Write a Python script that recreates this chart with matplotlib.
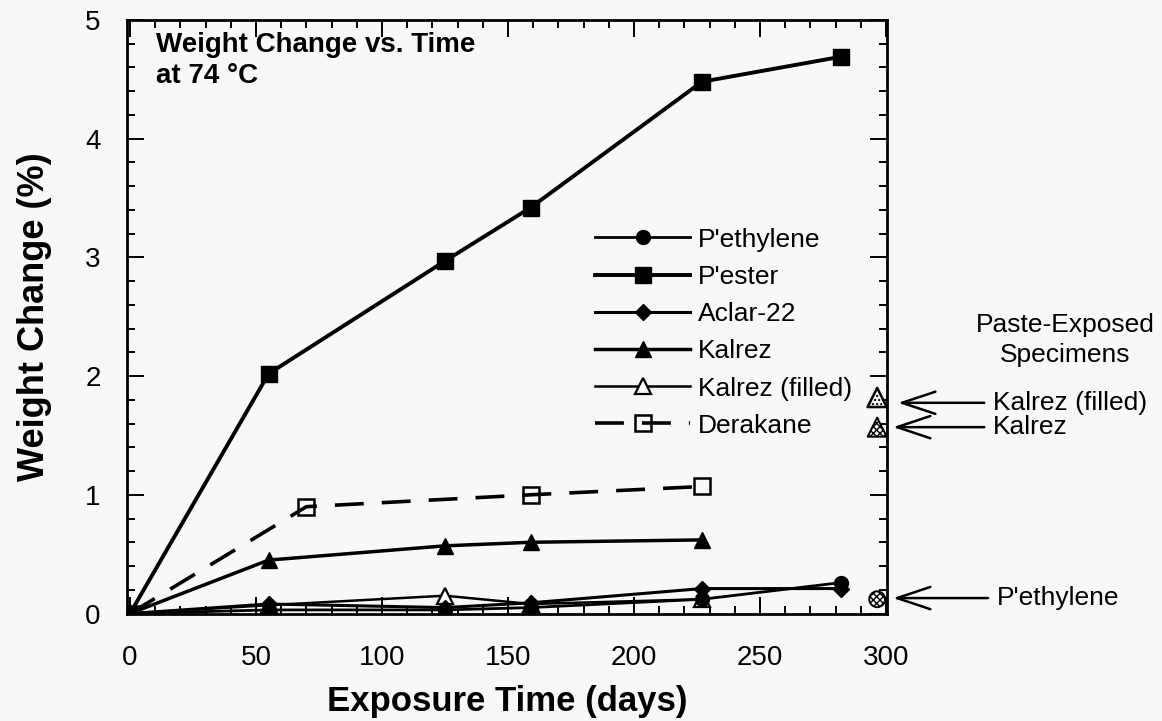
import numpy as np
import matplotlib
matplotlib.use("Agg")
from matplotlib import pyplot as plt
from matplotlib.ticker import MultipleLocator

plt.rcParams['font.family'] = ['Liberation Sans', 'DejaVu Sans']
plt.rcParams['hatch.linewidth'] = 1.0

# -------------------------
# data (weight change %, 74 C exposure)
# -------------------------
days_pe = [0, 55, 125, 159, 227, 282]
pethylene = [0, 0.03, 0.03, 0.05, 0.12, 0.26]

days_pes = [0, 55, 125, 159, 227, 282]
pester = [0, 2.02, 2.97, 3.42, 4.48, 4.69]

days_ac = [0, 55, 125, 159, 227, 282]
aclar = [0, 0.08, 0.05, 0.09, 0.21, 0.21]

days_k = [0, 55, 125, 159, 227]
kalrez = [0, 0.45, 0.57, 0.60, 0.62]

days_kf = [0, 55, 125, 159, 227]
kalrez_filled = [0, 0.07, 0.15, 0.08, 0.12]

days_der = [0, 70, 159, 227]
derakane = [0, 0.90, 1.00, 1.07]

# paste-exposed specimens
paste_day = 296.5
paste_names = ["Kalrez (filled)", "Kalrez", "P'ethylene"]
paste_vals = [1.82, 1.57, 0.12]

bg = '#f8f8f8'
fig = plt.figure(figsize=(11.62, 7.21), dpi=100, facecolor=bg)
ax = fig.add_axes([127/1162, 1 - 613.5/721, 760/1162, 593.5/721], facecolor=bg)

ax.plot(days_pe, pethylene, color='black', lw=2.0, marker='o', ms=10, label="P'ethylene", zorder=5)
ax.plot(days_pes, pester, color='black', lw=2.8, marker='s', ms=12, label="P'ester")
ax.plot(days_ac, aclar, color='black', lw=2.2, marker='D', ms=8, label='Aclar-22', zorder=4)
ax.plot(days_k, kalrez, color='black', lw=2.5, marker='^', ms=12, label='Kalrez')
ax.plot(days_kf, kalrez_filled, color='black', lw=1.8, marker='^', ms=11, mfc='white',
        mew=1.6, label='Kalrez (filled)')
ax.plot(days_der, derakane, color='black', lw=2.6, ls=(0, (8, 5)), marker='s', ms=12,
        mfc='none', mew=1.8, label='Derakane')

# hatched paste-exposed markers
ax.scatter([paste_day], [paste_vals[0]], s=190, marker='^', facecolor=bg, edgecolor='black',
           hatch='....', linewidth=1.8, zorder=6, clip_on=False)
ax.scatter([paste_day], [paste_vals[1]], s=190, marker='^', facecolor=bg, edgecolor='black',
           hatch='xxxxx', linewidth=1.4, zorder=6, clip_on=False)
ax.scatter([paste_day], [paste_vals[2]], s=130, marker='o', facecolor=bg, edgecolor='black',
           hatch='xxxxx', linewidth=1.4, zorder=6, clip_on=False)

ax.set_xlim(-1.2, 300.4)
ax.set_ylim(0, 5)
ax.xaxis.set_major_locator(MultipleLocator(50))
ax.xaxis.set_minor_locator(MultipleLocator(10))
ax.yaxis.set_major_locator(MultipleLocator(1))
ax.yaxis.set_minor_locator(MultipleLocator(0.2))
ax.tick_params(which='both', direction='in', top=True, right=True, width=1.4, labelsize=20)
ax.tick_params(which='major', length=12)
ax.tick_params(which='minor', length=6)
ax.tick_params(axis='x', which='major', pad=23)
ax.tick_params(axis='y', which='major', pad=19)
for s in ax.spines.values():
    s.set_linewidth(2.0)

ax.set_xlabel('Exposure Time (days)', fontsize=25, fontweight='bold', labelpad=10)
ax.set_ylabel('Weight Change (%)', fontsize=26, fontweight='bold', labelpad=24)

ax.text(10.5, 4.9, 'Weight Change vs. Time\nat 74 \u00b0C', fontsize=20, fontweight='bold',
        va='top', ha='left', linespacing=1.25)

ax.legend(loc='upper left', bbox_to_anchor=(0.616, 0.65), frameon=False, fontsize=19,
          numpoints=1, handlelength=3.6, handletextpad=0.3, labelspacing=0.5,
          borderpad=0, borderaxespad=0)

# annotations for paste-exposed specimens
ax.text(371, 2.43, 'Paste-Exposed', fontsize=19, ha='center', va='center', clip_on=False)
ax.text(371, 2.18, 'Specimens', fontsize=19, ha='center', va='center', clip_on=False)

arrow = dict(arrowstyle='->, head_length=1.2, head_width=0.4', color='black', lw=1.8,
             shrinkA=0, shrinkB=0, mutation_scale=20)
text_x = [342.5, 342.5, 344.0]
text_y = [1.775, 1.57, 0.13]
tip_x = [304.8, 302.8, 302.8]
for name, tx, ty, px in zip(paste_names, text_x, text_y, tip_x):
    ax.annotate('', xy=(px, ty), xytext=(tx - 3.5, ty), arrowprops=arrow,
                annotation_clip=False)
    ax.text(tx, ty, name, fontsize=19, ha='left', va='center', clip_on=False)

fig.savefig('out.png', dpi=100, facecolor=bg)
